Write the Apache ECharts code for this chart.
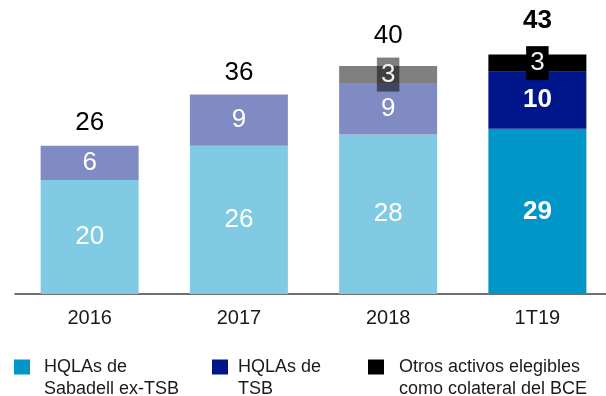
<!DOCTYPE html>
<html>
<head>
<meta charset="utf-8">
<script src="https://cdn.jsdelivr.net/npm/echarts@6/dist/echarts.min.js"></script>
<style>
  html, body { margin: 0; padding: 0; background: #ffffff; overflow: hidden; }
  /* canvas runs a few pixels past the right edge so the axis line bleeds off */
  #chart { width: 612px; height: 396px; }
</style>
</head>
<body>
<div id="chart"></div>
<script>
// Periods on the x axis
const categories = ['2016', '2017', '2018', '1T19'];
// Stack segments (thousand million €)
const hqlaSabadell = [20, 26, 28, 29];
const hqlaTsb = [6, 9, 9, 10];
const otrosActivos = ['-', '-', 3, 3];
// Stack totals shown above each bar
const totals = [26, 36, 40, 43];

const seriesNames = [
  'HQLAs de Sabadell ex-TSB',
  'HQLAs de TSB',
  'Otros activos elegibles como colateral del BCE'
];
// Legend text broken over two lines; the leading blank line keeps the
// first line level with the legend swatch
const legendLines = {
  'HQLAs de Sabadell ex-TSB': '\nHQLAs de\nSabadell ex-TSB',
  'HQLAs de TSB': '\nHQLAs de\nTSB',
  'Otros activos elegibles como colateral del BCE': '\nOtros activos elegibles\ncomo colateral del BCE'
};

// Historic periods use pale tones, the latest quarter uses strong tones
const paleColors = ['#80cae3', '#808ac3', '#808080'];
const strongColors = ['#0096c8', '#00168a', '#000000'];
const FONT = '"Liberation Sans", Arial, sans-serif';
const LAST = categories.length - 1;
// Gap between each total and the top of its bar
const totalLabelGap = [10, 3, 17, 15];

function segmentData(values, k) {
  return values.map((v, i) => {
    if (v === '-') return v;
    const item = {
      value: v,
      itemStyle: { color: i === LAST ? strongColors[k] : paleColors[k] },
      label: {}
    };
    if (i === LAST) item.label.fontWeight = 'bold';
    return item;
  });
}

const otrosData = segmentData(otrosActivos, 2).map((d, i) => {
  if (d === '-') return d;
  d.label.backgroundColor = i === LAST ? '#000000' : 'rgba(0,0,0,0.5)';
  d.label.padding = [4, 4, 4, 4];
  d.label.fontWeight = 'normal';
  return d;
});

const totalData = totals.map((v, i) => ({
  value: v,
  label: {
    fontWeight: i === LAST ? 'bold' : 'normal',
    distance: totalLabelGap[i]
  }
}));

const segLabel = {
  show: true,
  position: 'inside',
  color: '#ffffff',
  fontSize: 26,
  fontFamily: FONT
};

function legendAt(name, left, padLeft) {
  return {
    data: [name],
    left: left,
    top: 334,
    padding: 0,
    orient: 'horizontal',
    icon: 'rect',
    itemWidth: 16,
    itemHeight: 15,
    selectedMode: false,
    formatter: n => legendLines[n],
    textStyle: {
      fontSize: 18,
      lineHeight: 22,
      color: '#1a1a1a',
      fontFamily: FONT,
      padding: [0, 0, 0, padLeft]
    }
  };
}

const chart = echarts.init(document.getElementById('chart'), null, { renderer: 'canvas' });
chart.setOption({
  animation: false,
  backgroundColor: '#ffffff',
  grid: { left: 15, right: 0, top: 9, height: 285, containLabel: false },
  legend: [
    legendAt(seriesNames[0], 14, 9),
    legendAt(seriesNames[1], 212, 5),
    legendAt(seriesNames[2], 368, 10)
  ],
  xAxis: {
    type: 'category',
    data: categories,
    axisTick: { show: false },
    axisLine: { show: true, lineStyle: { color: '#404040', width: 1.5 } },
    axisLabel: { color: '#1a1a1a', fontSize: 20, fontFamily: FONT, margin: 14 }
  },
  yAxis: {
    type: 'value',
    min: 0,
    max: 50,
    show: false,
    splitLine: { show: false }
  },
  series: [
    {
      name: seriesNames[0],
      type: 'bar',
      stack: 'liquidez',
      barWidth: 98,
      barGap: '-100%',
      itemStyle: { color: strongColors[0] },
      label: segLabel,
      data: segmentData(hqlaSabadell, 0)
    },
    {
      name: seriesNames[1],
      type: 'bar',
      stack: 'liquidez',
      barWidth: 98,
      barGap: '-100%',
      itemStyle: { color: strongColors[1] },
      label: segLabel,
      data: segmentData(hqlaTsb, 1)
    },
    {
      name: seriesNames[2],
      type: 'bar',
      stack: 'liquidez',
      barWidth: 98,
      barGap: '-100%',
      itemStyle: { color: strongColors[2] },
      label: Object.assign({}, segLabel, { color: '#f0f0f0' }),
      data: otrosData
    },
    {
      name: 'Total',
      type: 'bar',
      barWidth: 98,
      barGap: '-100%',
      silent: true,
      z: 1,
      itemStyle: { color: 'rgba(0,0,0,0)' },
      label: {
        show: true,
        position: 'top',
        color: '#000000',
        fontSize: 26,
        fontFamily: FONT
      },
      data: totalData
    }
  ]
});
</script>
</body>
</html>
